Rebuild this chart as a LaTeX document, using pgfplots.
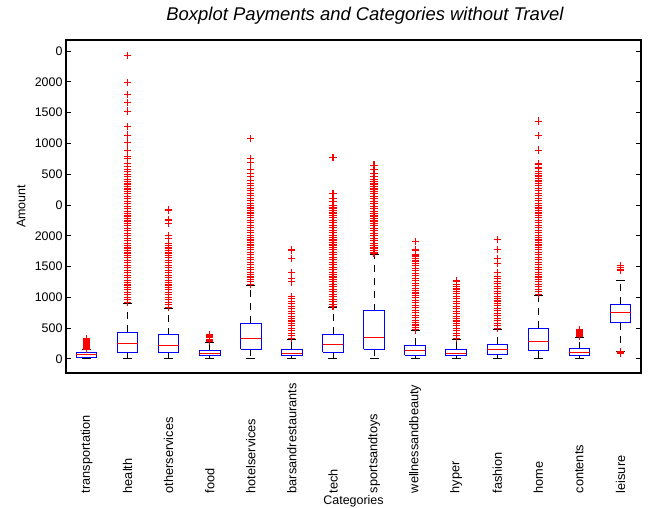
\documentclass[border=0pt]{standalone}
\usepackage{fontspec}
\setmainfont{Liberation Sans}
\usepackage{pgfplots}
\pgfplotsset{compat=1.18}
\pgfplotsset{
  boxst/.style={blue, line width=0.9bp, no marks},
  medst/.style={red, line width=0.9bp, no marks},
  whst/.style={black, line width=0.9bp, dash pattern=on 7bp off 6bp, no marks},
  capst/.style={black, line width=0.9bp, solid, no marks},
  outst/.style={only marks, mark=+, color=red, mark size=3.6bp, every mark/.append style={solid, draw=red, line width=1.1bp}},
}
% #1 position, #2 lower whisker, #3 lower quartile, #4 median, #5 upper quartile, #6 upper whisker
\newcommand\bx[6]{%
  \pgfmathsetmacro\xl{#1-0.25}\pgfmathsetmacro\xr{#1+0.25}%
  \pgfmathsetmacro\capl{#1-0.11}\pgfmathsetmacro\capr{#1+0.11}%
  \edef\tmp{%
    \noexpand\addplot[whst] coordinates {(#1,#3) (#1,#2)};
    \noexpand\addplot[whst] coordinates {(#1,#5) (#1,#6)};
    \noexpand\addplot[capst] coordinates {(\capl,#2) (\capr,#2)};
    \noexpand\addplot[capst] coordinates {(\capl,#6) (\capr,#6)};
    \noexpand\addplot[boxst] coordinates {(\xl,#3) (\xr,#3) (\xr,#5) (\xl,#5) (\xl,#3)};
    \noexpand\addplot[medst] coordinates {(\xl,#4) (\xr,#4)};
  }\tmp}
\newcommand\outl[2]{\addplot[outst] table[row sep=\\, x expr=#1, y index=0] {data\\ #2};}
\begin{document}
\begin{tikzpicture}
\useasboundingbox (0,0) rectangle (650bp,508bp);
\begin{axis}[
  at={(66bp,135bp)}, anchor=south west,
  scale only axis, width=575bp, height=333bp,
  xmin=0.5, xmax=14.5, ymin=-230, ymax=5180,
  axis line style={line width=1.2bp},
  xtick={1,...,14},
  xticklabels={transportation,health,otherservices,food,hotelservices,barsandrestaurants,tech,sportsandtoys,wellnessandbeauty,hyper,fashion,home,contents,leisure},
  x tick style={draw=none},
  xticklabel style={rotate=90, anchor=east, text width=120bp, align=left, inner sep=0pt, font=\fontsize{12.8}{14}\selectfont},
  ytick={0,500,...,5000},
  yticklabels={0,500,1000,1500,2000,0,500,1000,1500,2000,0},
  y tick style={black, line width=0.8bp},
  major tick length=5bp,
  yticklabel style={font=\fontsize{12.5}{14}\selectfont},
  /pgf/number format/assume math mode=true,
  xlabel={Categories},
  ylabel={Amount},
  label style={font=\fontsize{12.5}{14}\selectfont},
  xlabel style={at={(axis description cs:0.5,-0.386)}, anchor=center},
  ylabel style={at={(axis description cs:-0.078,0.5)}, anchor=center},
  title={Boxplot Payments and Categories without Travel},
  title style={at={(axis description cs:0.52,1.054)}, anchor=center, yshift=0pt, font=\fontsize{18.5}{21}\selectfont\itshape},
]
% outliers
\outl{1}{160\\ 175\\ 190\\ 205\\ 220\\ 235\\ 250\\ 265\\ 280\\ 295\\ 310\\ 330\\}
\outl{2}{920\\ 960\\ 1000\\ 1040\\ 1080\\ 1120\\ 1160\\ 1200\\ 1240\\ 1280\\ 1320\\ 1360\\ 1400\\ 1440\\ 1480\\ 1520\\ 1560\\ 1600\\ 1640\\ 1680\\ 1720\\ 1760\\ 1800\\ 1840\\ 1880\\ 1920\\ 1960\\ 2000\\ 2040\\ 2080\\ 2120\\ 2160\\ 2200\\ 2240\\ 2280\\ 2320\\ 2360\\ 2400\\ 2440\\ 2480\\ 2520\\ 2560\\ 2600\\ 2640\\ 2680\\ 2720\\ 2760\\ 2800\\ 2840\\ 2880\\ 2920\\ 2960\\ 3000\\ 3040\\ 3080\\ 3130\\ 3180\\ 3250\\ 3280\\ 3392\\ 3510\\ 3635\\ 3780\\ 4025\\ 4160\\ 4300\\ 4490\\ 4934\\}
\outl{3}{840\\ 880\\ 920\\ 960\\ 1000\\ 1040\\ 1080\\ 1120\\ 1160\\ 1200\\ 1240\\ 1280\\ 1320\\ 1360\\ 1400\\ 1440\\ 1480\\ 1520\\ 1560\\ 1600\\ 1640\\ 1680\\ 1720\\ 1760\\ 1800\\ 1840\\ 1880\\ 1950\\ 2000\\ 2200\\ 2256\\ 2418\\}
\outl{4}{280\\ 300\\ 320\\ 340\\ 360\\ 380\\ 400\\}
\outl{5}{1210\\ 1250\\ 1290\\ 1330\\ 1370\\ 1410\\ 1450\\ 1490\\ 1530\\ 1570\\ 1610\\ 1650\\ 1690\\ 1730\\ 1770\\ 1810\\ 1850\\ 1890\\ 1930\\ 1970\\ 2010\\ 2050\\ 2090\\ 2130\\ 2170\\ 2210\\ 2250\\ 2290\\ 2330\\ 2370\\ 2410\\ 2450\\ 2490\\ 2530\\ 2570\\ 2610\\ 2650\\ 2690\\ 2730\\ 2770\\ 2810\\ 2850\\ 2900\\ 2960\\ 3013\\ 3080\\ 3186\\ 3257\\ 3582\\}
\outl{6}{335\\ 375\\ 415\\ 455\\ 495\\ 535\\ 575\\ 615\\ 655\\ 695\\ 735\\ 775\\ 815\\ 855\\ 895\\ 935\\ 975\\ 1011\\ 1250\\ 1300\\ 1407\\ 1634\\ 1769\\}
\outl{7}{850\\ 890\\ 930\\ 970\\ 1010\\ 1050\\ 1090\\ 1130\\ 1170\\ 1210\\ 1250\\ 1290\\ 1330\\ 1370\\ 1410\\ 1450\\ 1490\\ 1530\\ 1570\\ 1610\\ 1650\\ 1690\\ 1730\\ 1770\\ 1810\\ 1850\\ 1890\\ 1930\\ 1970\\ 2010\\ 2050\\ 2090\\ 2130\\ 2170\\ 2210\\ 2250\\ 2290\\ 2330\\ 2370\\ 2410\\ 2450\\ 2490\\ 2550\\ 2600\\ 2689\\ 3273\\}
\outl{8}{1720\\ 1760\\ 1800\\ 1840\\ 1880\\ 1920\\ 1960\\ 2000\\ 2040\\ 2080\\ 2120\\ 2160\\ 2200\\ 2240\\ 2280\\ 2320\\ 2360\\ 2400\\ 2440\\ 2480\\ 2520\\ 2560\\ 2600\\ 2640\\ 2680\\ 2720\\ 2760\\ 2800\\ 2840\\ 2880\\ 2920\\ 2960\\ 3013\\ 3080\\ 3148\\}
\outl{9}{470\\ 510\\ 550\\ 590\\ 630\\ 670\\ 710\\ 750\\ 790\\ 830\\ 870\\ 910\\ 950\\ 990\\ 1030\\ 1070\\ 1110\\ 1150\\ 1190\\ 1230\\ 1270\\ 1310\\ 1350\\ 1390\\ 1430\\ 1470\\ 1510\\ 1550\\ 1590\\ 1630\\ 1670\\ 1700\\ 1769\\ 1904\\}
\outl{10}{335\\ 375\\ 415\\ 455\\ 495\\ 535\\ 575\\ 615\\ 655\\ 695\\ 735\\ 775\\ 815\\ 855\\ 895\\ 935\\ 975\\ 1015\\ 1055\\ 1095\\ 1135\\ 1175\\ 1215\\ 1250\\ 1271\\}
\outl{11}{500\\ 540\\ 580\\ 620\\ 660\\ 700\\ 740\\ 780\\ 820\\ 860\\ 900\\ 940\\ 980\\ 1020\\ 1060\\ 1100\\ 1140\\ 1180\\ 1220\\ 1260\\ 1300\\ 1340\\ 1400\\ 1553\\ 1634\\ 1780\\ 1942\\}
\outl{12}{1050\\ 1090\\ 1130\\ 1170\\ 1210\\ 1250\\ 1290\\ 1330\\ 1370\\ 1410\\ 1450\\ 1490\\ 1530\\ 1570\\ 1610\\ 1650\\ 1690\\ 1730\\ 1770\\ 1810\\ 1850\\ 1890\\ 1930\\ 1970\\ 2010\\ 2050\\ 2090\\ 2130\\ 2170\\ 2210\\ 2250\\ 2290\\ 2330\\ 2370\\ 2410\\ 2450\\ 2490\\ 2530\\ 2570\\ 2610\\ 2650\\ 2690\\ 2730\\ 2770\\ 2810\\ 2850\\ 2890\\ 2930\\ 2970\\ 3010\\ 3050\\ 3100\\ 3165\\ 3392\\ 3625\\ 3863\\}
\outl{13}{360\\ 380\\ 400\\ 420\\ 440\\ 460\\ 475\\}
\outl{14}{95\\ 105\\ 115\\ 1444\\ 1480\\ 1510\\}
% boxes: position, lower whisker, lower quartile, median, upper quartile, upper whisker
\bx{1}{5}{28}{70}{102}{150}
\bx{2}{0}{109}{249}{433}{904}
\bx{3}{0}{97}{222}{390}{823}
\bx{4}{0}{49}{92}{141}{265}
\bx{5}{0}{157}{336}{579}{1196}
\bx{6}{0}{49}{92}{157}{320}
\bx{7}{0}{109}{232}{400}{833}
\bx{8}{0}{157}{341}{779}{1704}
\bx{9}{0}{60}{135}{222}{454}
\bx{10}{0}{49}{92}{157}{320}
\bx{11}{0}{65}{146}{238}{482}
\bx{12}{0}{135}{281}{498}{1034}
\bx{13}{0}{49}{97}{167}{346}
\bx{14}{125}{584}{747}{888}{1271}
\end{axis}
\end{tikzpicture}
\end{document}
